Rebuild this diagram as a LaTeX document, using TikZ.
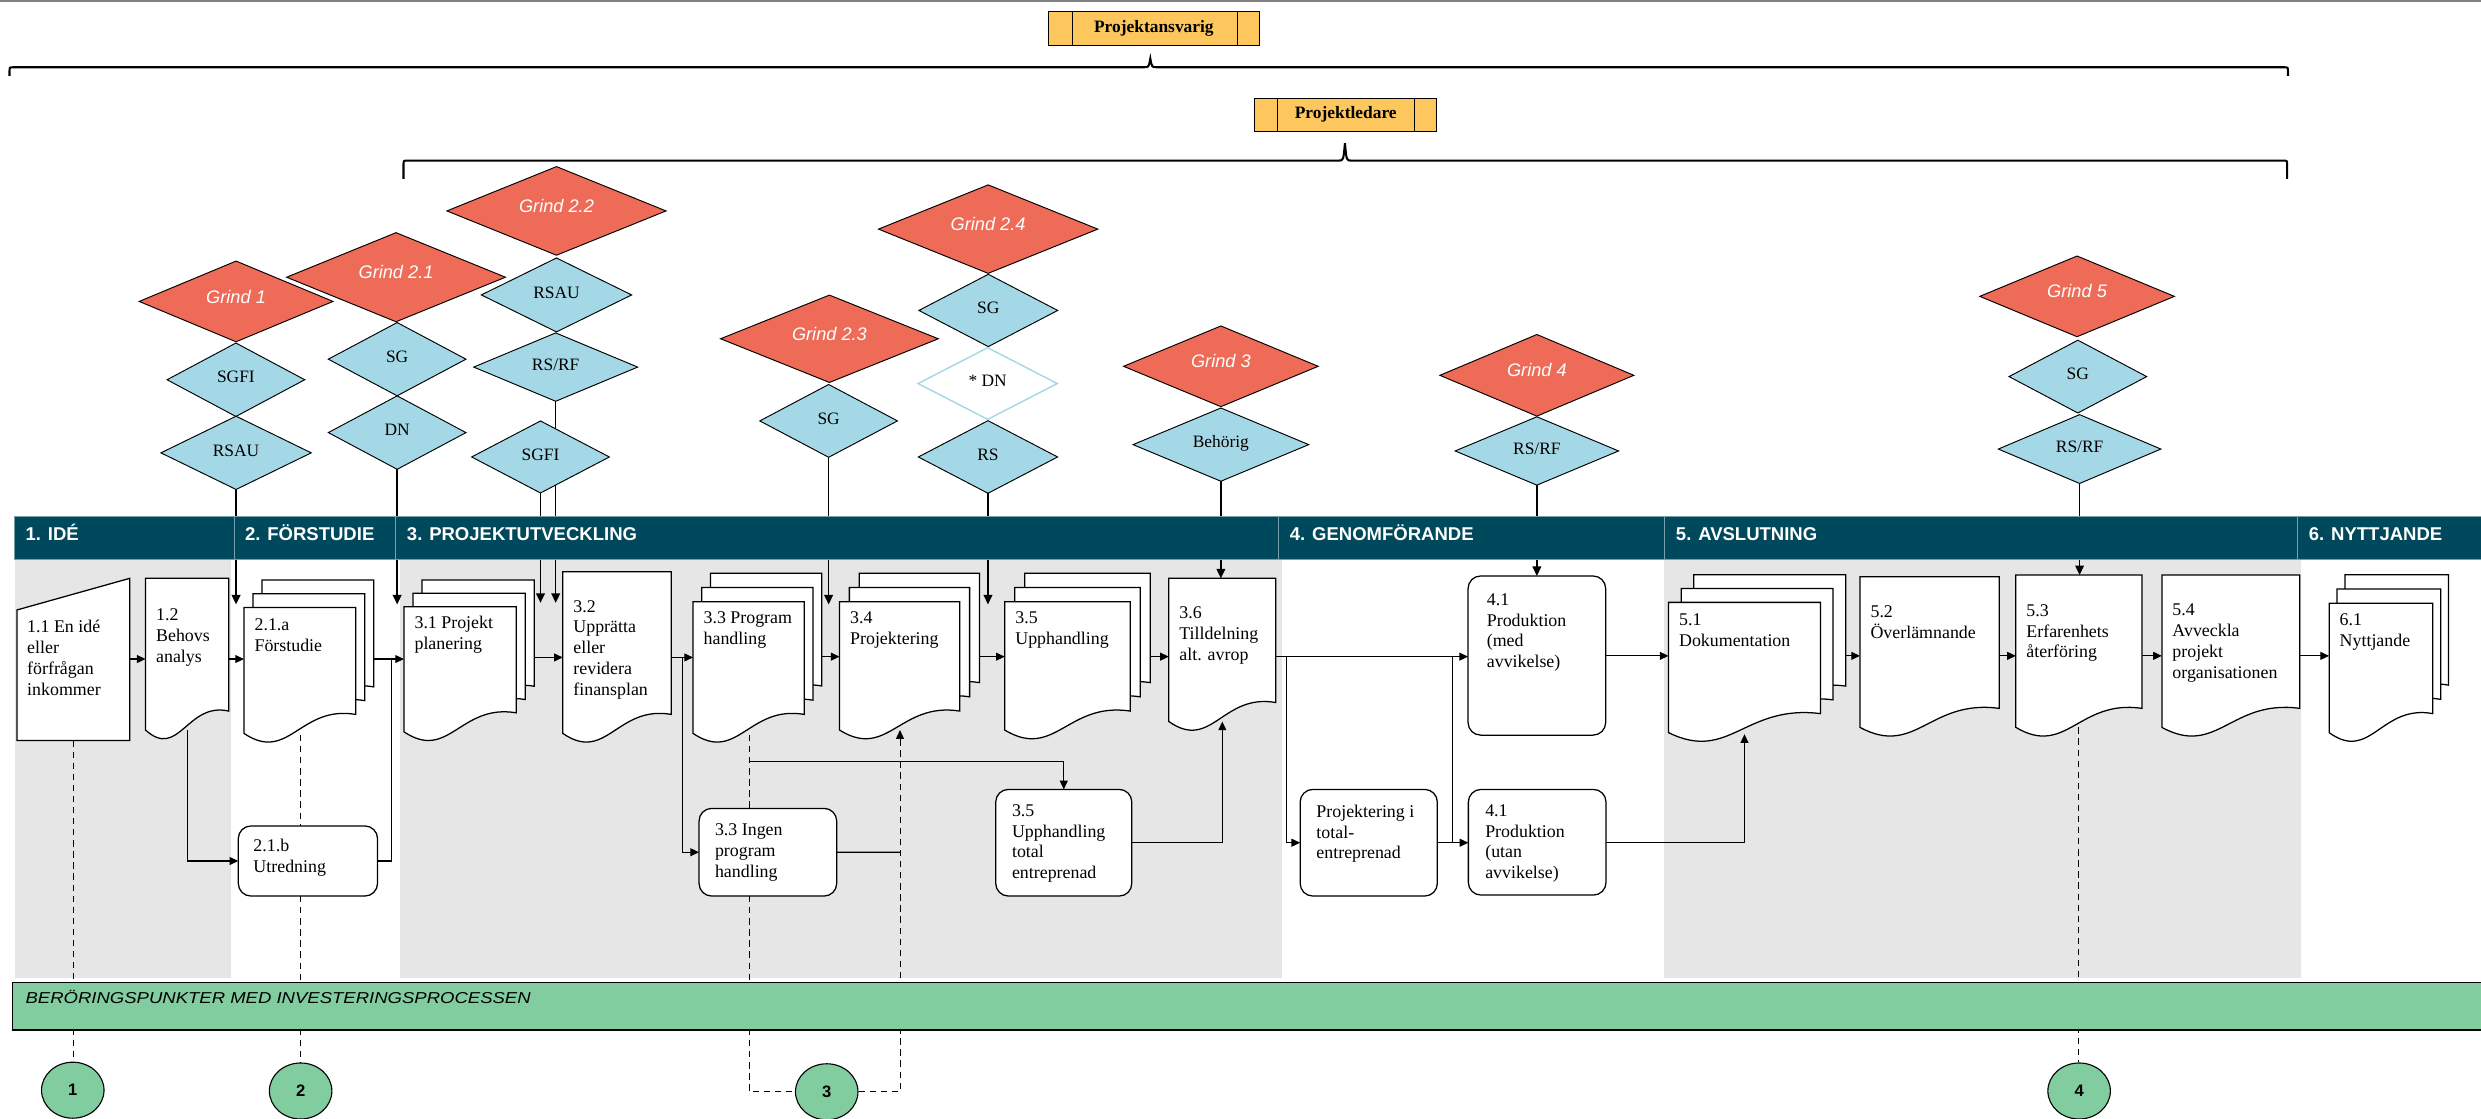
\documentclass[tikz,border=0pt]{standalone}
\usepackage{fontspec}
\usepackage{graphicx}
\setmainfont{Liberation Serif}
\setsansfont{Liberation Sans}
\usetikzlibrary{shapes.geometric,arrows.meta}
\pgfdeclarelayer{bg}
\pgfdeclarelayer{lines}
\pgfdeclarelayer{mid}
\pgfsetlayers{bg,lines,mid,main}

\definecolor{gred}{RGB}{238,107,88}
\definecolor{gblue}{RGB}{165,216,230}
\definecolor{hdrc}{RGB}{0,73,92}
\definecolor{hdrline}{RGB}{120,160,170}
\definecolor{bggray}{RGB}{230,230,230}
\definecolor{ggreen}{RGB}{130,205,160}
\definecolor{orng}{RGB}{253,199,94}

\tikzset{
  dia/.style={shape=diamond, draw=black, line width=0.6pt, inner sep=0pt, outer sep=0pt, shape aspect=2},
  reddia/.style={dia, fill=gred, text=white, font=\sffamily\itshape\fontsize{11.5}{13}\selectfont, text height=8pt, text depth=6pt},
  bluedia/.style={dia, fill=gblue, font=\fontsize{11}{13}\selectfont, text height=8pt, text depth=4pt},
  docline/.style={draw=black, fill=white, line width=0.8pt},
  shapebox/.style={inner sep=0pt, outer sep=0pt},
  ptext/.style={inner sep=0pt, align=left, font=\fontsize{11.3}{13.2}\selectfont},
  rbox/.style={draw=black, fill=white, line width=0.8pt, rounded corners=8pt, inner sep=0pt, outer sep=0pt, anchor=north west},
  flowarrow/.style={line width=0.7pt, -{Triangle[length=5.5pt,width=5pt]}},
  flowline/.style={line width=0.7pt},
  gatearrow/.style={line width=1pt, -{Triangle[length=6pt,width=5.5pt]}},
  dashline/.style={line width=0.6pt, dash pattern=on 4pt off 3pt},
  hdrcell/.style={fill=hdrc, draw=hdrline, line width=0.6pt, minimum height=26.6pt, inner sep=0pt, outer sep=0pt, anchor=north west},
  hdrtext/.style={text=white, font=\sffamily\bfseries\fontsize{11.7}{14}\selectfont, inner sep=0pt, anchor=base west},
  orbox/.style={fill=orng, draw=black, line width=0.7pt, inner sep=0pt, outer sep=0pt, font=\bfseries\fontsize{11}{13}\selectfont},
  brace/.style={line width=1.3pt},
  circ/.style={shape=ellipse, draw=black, line width=0.7pt, fill=ggreen, minimum width=39.5pt, minimum height=35.4pt, inner sep=0pt, font=\sffamily\bfseries\fontsize{10.5}{12}\selectfont}
}

% document shape: x0, ytop, W, H (left bottom end)
\newcommand\docshape[4]{%
  \filldraw[docline] ({#1},{#2}) -- ({#1+#3},{#2}) -- ({#1+#3},{#2+#4-12})
    .. controls ({#1+0.5*#3},{#2+#4-18}) and ({#1+0.4*#3},{#2+#4+19}) .. ({#1},{#2+#4}) -- cycle;%
}
\newcommand\docnode[7]{%
  \docshape{#2}{#3}{#4}{#5}%
  \node[shapebox, minimum width=#4pt, minimum height=#5pt, anchor=north west] (#1) at ({#2},{#3}) {};%
  \node[ptext, anchor=north west] (#1-t) at ({#2+6.5},{#3+#6}) {\strut #7};%
}
\newcommand\stacknode[9]{%
  \docshape{#2+2*#6}{#3-2*#7}{#4}{#5}%
  \docshape{#2+#6}{#3-#7}{#4}{#5}%
  \docshape{#2}{#3}{#4}{#5}%
  \node[shapebox, minimum width={#4pt+2*#6pt}, minimum height={#5pt+2*#7pt}, anchor=north west] (#1) at ({#2},{#3-2*#7}) {};%
  \node[ptext, anchor=north west] (#1-t) at ({#2+6.5},{#3+#8}) {\strut #9};%
}

\begin{document}
\begin{tikzpicture}[x=1pt, y=-1pt]
\useasboundingbox (0,0) rectangle (1568,707.2);

% top thin line
\draw[gray, line width=1pt] (0,0.5) -- (1568,0.5);

% ---------- backgrounds ----------
\begin{pgfonlayer}{bg}
  \fill[bggray] (9.5,353) rectangle (146,618.3);
  \fill[bggray] (252.6,353) rectangle (810,618.3);
  \fill[bggray] (1051.8,353) rectangle (1454,618.3);
\end{pgfonlayer}

% ---------- responsibility boxes and braces ----------
\node[orbox, minimum width=133.5pt, minimum height=22pt] (pa) at (729.25,18) {Projektansvarig};
\draw[line width=0.7pt] ([xshift=15.5pt]pa.north west) -- ([xshift=15.5pt]pa.south west);
\draw[line width=0.7pt] ([xshift=-14pt]pa.north east) -- ([xshift=-14pt]pa.south east);
\node[orbox, minimum width=115pt, minimum height=21pt] (pl) at (850.5,72.5) {Projektledare};
\draw[line width=0.7pt] ([xshift=14.5pt]pl.north west) -- ([xshift=14.5pt]pl.south west);
\draw[line width=0.7pt] ([xshift=-14pt]pl.north east) -- ([xshift=-14pt]pl.south east);

\draw[brace] (6,48) -- (6,45.5) .. controls (6,42.5) .. (8.5,42.5) -- (723,42.5)
  .. controls (726,42.5) .. (727,37) .. controls (728,42.5) .. (731,42.5) -- (1443.5,42.5)
  .. controls (1446,42.5) .. (1446,45.5) -- (1446,48);
\draw[brace] (255,113) -- (255,104.5) .. controls (255,101.5) .. (257.5,101.5) -- (846,101.5)
  .. controls (849,101.5) .. (850,90.5) .. controls (851,101.5) .. (854,101.5) -- (1443,101.5)
  .. controls (1445.5,101.5) .. (1445.5,104.5) -- (1445.5,113);

% ---------- gate diamonds ----------
\node[reddia, minimum width=122.5pt, minimum height=51pt] (g1) at (149.2,190.5) {Grind 1};
\node[bluedia, minimum width=87pt, minimum height=46.4pt] (sgfi1) at (149.1,240) {SGFI};
\node[bluedia, minimum width=95pt, minimum height=46.3pt] (rsau1) at (149.2,286.2) {RSAU};

\node[reddia, minimum width=138.3pt, minimum height=56.3pt] (g21) at (250.3,175.2) {Grind 2.1};
\node[bluedia, minimum width=87pt, minimum height=46.3pt] (sg21) at (251,227) {SG};
\node[bluedia, minimum width=87pt, minimum height=46.4pt] (dn21) at (251,273.4) {DN};

\node[reddia, minimum width=138.5pt, minimum height=56pt] (g22) at (351.7,133.3) {Grind 2.2};
\node[bluedia, minimum width=95pt, minimum height=46.7pt] (rsau22) at (351.7,186.4) {RSAU};
\node[bluedia, minimum width=103.6pt, minimum height=43.2pt] (rsrf22) at (351.2,232) {RS/RF};
\node[bluedia, minimum width=87pt, minimum height=45.5pt] (sgfi3) at (341.6,288.8) {SGFI};

\node[reddia, minimum width=137.6pt, minimum height=55.2pt] (g23) at (524.2,214.1) {Grind 2.3};
\node[bluedia, minimum width=87pt, minimum height=46pt] (sg23) at (523.7,266) {SG};

\node[reddia, minimum width=138.6pt, minimum height=55.9pt] (g24) at (624.5,144.8) {Grind 2.4};
\node[bluedia, minimum width=87.7pt, minimum height=45.7pt] (sg24) at (624.6,196.2) {SG};
\node[bluedia, fill=white, draw=gblue, line width=0.9pt, minimum width=88pt, minimum height=45.3pt] (dn24) at (624.2,242.4) {* DN};
\node[bluedia, minimum width=88pt, minimum height=45.9pt] (rs24) at (624.4,288.8) {RS};

\node[reddia, minimum width=123pt, minimum height=51pt] (g3) at (771.6,231.5) {Grind 3};
\node[bluedia, minimum width=111pt, minimum height=46.3pt] (behorig) at (771.6,281) {Behörig};

\node[reddia, minimum width=122.6pt, minimum height=51.6pt] (g4) at (971.3,237.2) {Grind 4};
\node[bluedia, minimum width=103.3pt, minimum height=43.2pt] (rsrf4) at (971.3,285) {RS/RF};

\node[reddia, minimum width=123pt, minimum height=51pt] (g5) at (1312.7,187.3) {Grind 5};
\node[bluedia, minimum width=87pt, minimum height=46pt] (sg5) at (1313.2,238) {SG};
\node[bluedia, minimum width=102.7pt, minimum height=43.5pt] (rsrf5) at (1314.3,283.8) {RS/RF};

% ---------- phase header ----------
\begin{pgfonlayer}{mid}
  \node[hdrcell, minimum width=138.9pt] (h1) at (9,326.7) {};
  \node[hdrcell, minimum width=102pt] (h2) at (147.9,326.7) {};
  \node[hdrcell, minimum width=558.1pt] (h3) at (249.9,326.7) {};
  \node[hdrcell, minimum width=243.7pt] (h4) at (808,326.7) {};
  \node[hdrcell, minimum width=400pt] (h5) at (1051.7,326.7) {};
  \node[hdrcell, minimum width=125pt] (h6) at (1451.7,326.7) {};
  \node[hdrtext] (h1-t) at (16,341.8) {1. IDÉ};
  \node[hdrtext] (h2-t) at (154.7,341.8) {2. FÖRSTUDIE};
  \node[hdrtext] (h3-t) at (257,341.8) {3. PROJEKTUTVECKLING};
  \node[hdrtext] (h4-t) at (815,341.8) {4. GENOMFÖRANDE};
  \node[hdrtext] (h5-t) at (1059,341.8) {5. AVSLUTNING};
  \node[hdrtext] (h6-t) at (1459,341.8) {6. NYTTJANDE};
  % green band
  \node[fill=ggreen, draw=black, line width=0.8pt, minimum width=1570pt, minimum height=30.1pt, anchor=north west, inner sep=0pt] (gbar) at (7.5,620.4) {};
  \node[anchor=base west, inner sep=0pt, font=\sffamily\itshape\fontsize{10}{12}\selectfont] (gbar-t) at (16,634.5) {\scalebox{1.17}[1]{BERÖRINGSPUNKTER MED INVESTERINGSPROCESSEN}};
\end{pgfonlayer}

% ---------- process shapes ----------
% 1.1 manual input
\filldraw[docline] (10.7,385.5) -- (82,365.5) -- (82,468) -- (10.7,468) -- cycle;
\node[shapebox, minimum width=71.3pt, minimum height=102.5pt, anchor=north west] (p11) at (10.7,365.5) {};
\node[ptext, anchor=north west] (p11-t) at (17,390.5) {\strut 1.1 En idé\\eller\\förfrågan\\inkommer};

\docnode{p12}{92}{365.5}{52.5}{95.9}{17.2}{1.2\\Behovs\\analys}
\stacknode{p21a}{154.2}{384}{70.6}{79.5}{5.7}{8.7}{5}{2.1.a\\Förstudie}
\stacknode{p31}{255.3}{383.4}{71}{79.1}{5.7}{8.4}{4.6}{3.1 Projekt\\planering}
\docnode{p32}{355.7}{361.3}{68.6}{102.2}{16.1}{3.2\\Upprätta\\eller\\revidera\\finansplan}
\stacknode{p33}{438}{380.3}{70.3}{83.2}{5.5}{9}{4.5}{3.3 Program\\handling}
\stacknode{p34}{530.6}{380.3}{76}{81.1}{6.2}{9}{4.5}{3.4\\Projektering}
\stacknode{p35}{635}{380.3}{79.3}{81.1}{6.3}{9}{4.5}{3.5\\Upphandling}
\docnode{p36}{738.7}{365.5}{67.6}{90.5}{16.2}{3.6\\Tilldelning\\alt. avrop}
\stacknode{p51}{1054.5}{380.7}{96}{82.3}{8}{8.7}{5.2}{5.1\\Dokumentation}
\docnode{p52}{1175.5}{364.5}{88}{95.2}{16.1}{5.2\\Överlämnande}
\docnode{p53}{1274}{363.4}{79.8}{96.3}{16.6}{5.3\\Erfarenhets\\återföring}
\docnode{p54}{1366.3}{363.4}{87.2}{96.3}{16.1}{5.4\\Avveckla\\projekt\\organisationen}
\stacknode{p61}{1472}{381.3}{65.5}{81.7}{5}{9}{4.6}{6.1\\Nyttjande}

% rounded process boxes
\node[rbox, minimum width=87pt, minimum height=100.6pt] (p41m) at (927.8,364) {};
\node[ptext, anchor=north west] (p41m-t) at (939.5,373) {\strut 4.1\\Produktion\\(med\\avvikelse)};
\node[rbox, minimum width=86.7pt, minimum height=67.4pt] (ppt) at (821.7,498.9) {};
\node[ptext, anchor=north west] (ppt-t) at (831.8,507) {\strut Projektering i\\total-\\entreprenad};
\node[rbox, minimum width=87pt, minimum height=66.8pt] (p41u) at (928,498.9) {};
\node[ptext, anchor=north west] (p41u-t) at (938.5,506.4) {\strut 4.1\\Produktion\\(utan\\avvikelse)};
\node[rbox, minimum width=86pt, minimum height=67.4pt] (p35t) at (629.3,498.9) {};
\node[ptext, anchor=north west] (p35t-t) at (639.4,506.4) {\strut 3.5\\Upphandling\\total\\entreprenad};
\node[rbox, minimum width=87pt, minimum height=55.4pt] (p33i) at (441.8,510.9) {};
\node[ptext, anchor=north west] (p33i-t) at (451.7,518.6) {\strut 3.3 Ingen\\program\\handling};
\node[rbox, minimum width=88pt, minimum height=44.3pt] (p21b) at (150.6,522) {};
\node[ptext, anchor=north west] (p21b-t) at (160,528.7) {\strut 2.1.b\\Utredning};

% touch-point circles
\node[circ] (c1) at (46,689) {1};
\node[circ] (c2) at (190,689.5) {2};
\node[circ] (c3) at (522.5,690) {3};
\node[circ] (c4) at (1314,689.5) {4};

% ---------- connectors ----------
\begin{pgfonlayer}{lines}
  \coordinate (rowA) at (0,416.5);
  \coordinate (rowB) at (0,415.5);
  \coordinate (rowC) at (0,415);
  \coordinate (rowD) at (0,414.5);
  \coordinate (e1) at (0,382);
  \coordinate (e2) at (0,381);

  % gate lines
  \draw[gatearrow] (rsau1.south) -- (rsau1.south |- e1);
  \draw[gatearrow] (dn21.south) -- (dn21.south |- e1);
  \draw[gatearrow] (sgfi3.south) -- (sgfi3.south |- e2);
  \draw[gatearrow] (rsrf22.south) -- (rsrf22.south |- e2);
  \draw[gatearrow] (sg23.south) -- (sg23.south |- e1);
  \draw[gatearrow] (rs24.south) -- (rs24.south |- e1);
  \draw[gatearrow] (behorig.south) -- (behorig.south |- p36.north);
  \draw[gatearrow] (rsrf4.south) -- (rsrf4.south |- p41m.north);
  \draw[gatearrow] (rsrf5.south) -- (rsrf5.south |- p53.north);

  % main flow
  \draw[flowarrow] (p11.east |- rowA) -- (p12.west |- rowA);
  \draw[flowarrow] (p12.east |- rowA) -- (p21a.west |- rowA);
  \draw[flowarrow] (p21a.east |- rowA) -- (p31.west |- rowA);
  \draw[flowarrow] (p12.south) |- (p21b.west);
  \coordinate (j1) at (247.6,416.5);
  \draw[flowline] (p21b.east) -| (j1);
  \draw[flowarrow] (p31.east |- rowB) -- (p32.west |- rowB);
  \draw[flowarrow] (p32.east |- rowB) -- (p33.west |- rowB);
  \coordinate (j2) at (431.6,415.5);
  \draw[flowarrow] (j2) |- (p33i.west);
  \draw[flowarrow] (p33.east |- rowC) -- (p34.west |- rowC);
  \draw[flowarrow] (p34.east |- rowC) -- (p35.west |- rowC);
  \draw[flowarrow] (p35.east |- rowC) -- (p36.west |- rowC);
  \coordinate (j3) at (473.5,481);
  \draw[flowarrow] (j3) -| (p35t.north);
  \draw[flowarrow] (p35t.east) -| (p36.south);
  \coordinate (j4) at (568.8,538.6);
  \draw[flowline] (p33i.east) -- (j4);
  \draw[flowarrow] (p36.east |- rowC) -- (p41m.west |- rowC);
  \coordinate (j5) at (813,415);
  \draw[flowarrow] (j5) |- (ppt.west);
  \draw[flowarrow] (ppt.east) -- (p41u.west |- ppt.east);
  \coordinate (j6) at (917.8,532.6);
  \draw[flowline] (j6) -- (j6 |- rowC);
  \draw[flowarrow] (p41m.east |- rowD) -- (p51.west |- rowD);
  \coordinate (p51b) at (1102.5,464);
  \draw[flowarrow] (p41u.east) -| (p51b);
  \draw[flowarrow] (p51.east |- rowD) -- (p52.west |- rowD);
  \draw[flowarrow] (p52.east |- rowD) -- (p53.west |- rowD);
  \draw[flowarrow] (p53.east |- rowD) -- (p54.west |- rowD);
  \draw[flowarrow] (p54.east |- rowD) -- (p61.west |- rowD);

  % dashed links to the investment process
  \draw[dashline] (p11.south) -- (p11.south |- c1.north);
  \coordinate (d21) at (190,464.5);
  \draw[dashline] (d21) -- (d21 |- p21b.north);
  \draw[dashline] (d21 |- p21b.south) -- (d21 |- c2.north);
  \coordinate (d33) at (473.5,464.5);
  \draw[dashline] (d33) -- (d33 |- p33i.north);
  \draw[dashline] (d33 |- p33i.south) |- (c3.west);
  \draw[dashline, -{Triangle[length=5.5pt,width=5pt]}] (c3.east) -| (j4 |- p34.south);
  \draw[dashline] (p53.south) -- (p53.south |- c4.north);
\end{pgfonlayer}
\end{tikzpicture}
\end{document}
